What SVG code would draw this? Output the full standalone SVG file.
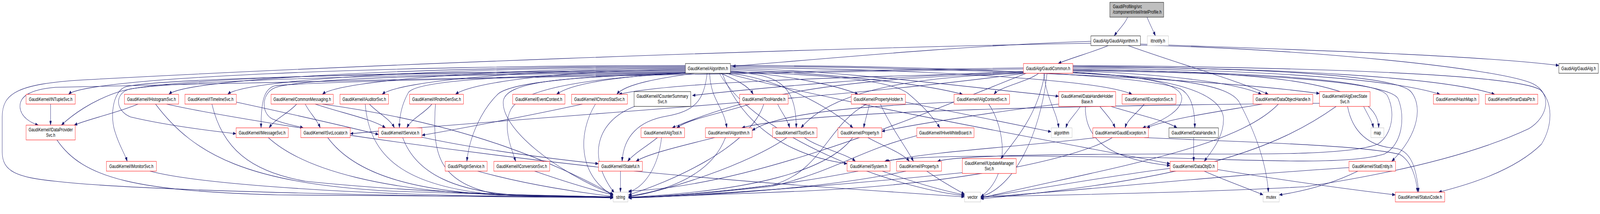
<svg xmlns="http://www.w3.org/2000/svg" width="5761" height="549" viewBox="0 0 5761 549" preserveAspectRatio="none" style="width:100%;height:100%;display:block">
<style>
text{font-family:"Liberation Sans",Arial,Helvetica,sans-serif;font-size:13.33px;text-anchor:middle;fill:#000}
.nd rect{fill:#fff;stroke:#ff0000;stroke-width:1}
.bk rect{stroke:#000}
.gy rect{stroke:#bfbfbf}
.ed path{fill:none;stroke:#191970;stroke-width:1.1;marker-end:url(#a)}
</style>
<defs>
<marker id="a" viewBox="0 0 11 8" refX="11" refY="4" markerWidth="11" markerHeight="8" markerUnits="userSpaceOnUse" orient="auto"><path d="M0,0 L11,4 L0,8 z" fill="#191970" stroke="#191970" stroke-width="0.5"/></marker>
</defs>
<rect x="0" y="0" width="5761" height="549" fill="#fff"/>
<g id="edges" class="ed">
<path d="M4060,44 C4050,62 4025,78 4012,92"/>
<path d="M4130,44 C4140,62 4152,78 4160,92"/>
<path d="M3990,117 C3930,135 3850,150 3810,163"/>
<path d="M3928,106 C3500,115 2900,155 2637,170"/>
<path d="M3928,111 C2800,125 1200,170 300,205 C60,215 8,240 8,300 L8,390 C8,440 60,455 200,465 C500,490 1500,505 2208,507"/>
<path d="M4106,113 C4600,126 5300,140 5613,168"/>
<path d="M4106,116 C4700,125 5400,175 5520,215 C5590,240 5575,300 5505,330 C5380,372 5150,430 4700,479 C4300,495 3800,500 3531,505"/>
<path d="M4062,117 C4250,165 4450,205 4567,242"/>
<path d="M2468,168 C1357,168 307,200 247,242"/>
<path d="M2468,170 C1500,172 670,202 608,242"/>
<path d="M2468,172 C1600,174 880,204 820,242"/>
<path d="M2468,174 C1800,176 1220,206 1161,242"/>
<path d="M2468,176 C1900,178 1435,208 1376,242"/>
<path d="M2468,178 C2050,180 1700,210 1640,242"/>
<path d="M2475,186 C2250,195 2060,212 2004,242"/>
<path d="M2500,188 C2380,200 2250,215 2221,242"/>
<path d="M2595,188 C2650,205 2695,220 2712,242"/>
<path d="M2555,188 C2560,260 2605,270 2617,328"/>
<path d="M2546,188 C2535,260 2500,285 2400,298 C2300,310 2245,350 2240,414"/>
<path d="M2468,180 C1500,184 600,198 430,235 C330,258 260,295 221,321"/>
<path d="M2468,182 C1500,186 600,200 455,222 C405,232 395,300 415,340 C430,375 450,395 458,414"/>
<path d="M2468,184 C1600,188 700,204 470,228 C415,236 410,282 470,300 C600,322 750,335 850,343"/>
<path d="M2468,186 C1800,190 1100,196 990,225 C940,240 940,290 980,305 C1030,320 1065,322 1092,328"/>
<path d="M2468,187 C2000,190 1500,200 1470,238 C1445,270 1438,300 1438,328"/>
<path d="M2468,188 C2100,195 1850,210 1795,240 C1735,280 1690,350 1681,414"/>
<path d="M2470,188 C2100,200 1880,230 1840,280 C1810,320 1835,370 1857,414"/>
<path d="M2630,182 C2800,190 3000,215 3090,242"/>
<path d="M2630,179 C2900,184 3300,210 3466,242"/>
<path d="M2630,176 C3000,178 3500,225 3812,247"/>
<path d="M2630,173 C3200,176 3950,200 4076,242"/>
<path d="M2630,170 C3500,172 4400,205 4751,240"/>
<path d="M2630,185 C2800,190 2867,215 2867,328"/>
<path d="M2625,188 C2800,200 3000,280 3071,328"/>
<path d="M2630,184 C2900,190 3200,200 3270,240 C3320,270 3360,300 3384,328"/>
<path d="M2630,168 C3300,168 4100,188 4250,228 C4295,245 4302,290 4302,328"/>
<path d="M2615,188 C3000,260 3700,350 4213,420"/>
<path d="M2600,188 C2680,330 2850,400 3050,420"/>
<path d="M2590,188 C2720,350 3200,480 3473,502"/>
<path d="M2480,188 C2000,196 1820,212 1812,260 C1805,330 2000,440 2208,499"/>
<path d="M3685,186 C3000,198 2400,212 2228,242"/>
<path d="M3685,183 C3200,195 2700,228 2493,245"/>
<path d="M3740,188 C3700,210 3600,222 3579,242"/>
<path d="M3758,188 C3770,260 3805,285 3812,328"/>
<path d="M3762,188 C3740,280 3680,340 3603,407"/>
<path d="M3685,188 C3000,200 2700,245 2420,328"/>
<path d="M3690,188 C3300,196 3000,230 2884,328"/>
<path d="M3685,174 C2500,188 800,205 200,224 C100,230 70,250 72,275 C75,300 110,315 138,321"/>
<path d="M3685,177 C2500,190 1200,205 990,220 C950,228 940,260 940,328"/>
<path d="M3690,188 C3000,255 2000,295 1261,343"/>
<path d="M3863,181 C4450,186 5010,205 5035,255 C5060,300 5050,370 4985,395 C4850,425 4500,410 4200,405 C3800,400 3300,395 3185,414"/>
<path d="M3863,179 C4400,183 4960,200 4995,245 C5025,285 5015,345 4960,370 C4850,400 4500,395 4200,395 C3800,396 3450,398 3375,414"/>
<path d="M3863,185 C4100,195 4250,210 4255,250 C4258,285 4180,312 4114,328"/>
<path d="M3863,182 C4200,190 4450,212 4542,242"/>
<path d="M3863,178 C4500,185 4964,200 4964,328"/>
<path d="M3863,175 C4500,178 5000,200 5185,242"/>
<path d="M3863,172 C4600,173 5200,198 5382,242"/>
<path d="M3863,170 C4600,175 5030,195 5080,235 C5120,268 5115,340 5011,414"/>
<path d="M3863,168 C4700,172 5450,190 5545,230 C5592,260 5592,322 5550,370 C5450,440 5280,475 5180,493"/>
<path d="M3695,188 C3300,300 2700,480 2263,490"/>
<path d="M3770,188 C3745,350 3650,480 3531,505"/>
<path d="M3863,187 C4200,200 4420,212 4462,262 C4520,340 4560,420 4567,493"/>
<path d="M3863,186 C4200,198 4390,232 4405,300 C4410,350 4360,390 4336,414"/>
<path d="M182,267 L182,321"/>
<path d="M497,267 C420,290 320,305 267,321"/>
<path d="M560,267 C700,400 900,470 1400,490 C1800,500 2100,503 2208,505"/>
<path d="M600,267 C800,300 1500,380 2300,440 C2800,475 3300,496 3473,505"/>
<path d="M851,262 C1000,285 1250,325 1363,345"/>
<path d="M763,267 C800,380 900,440 1100,465 C1500,495 2000,503 2208,507"/>
<path d="M1068,267 C1040,290 990,305 969,328"/>
<path d="M1099,267 C1115,290 1140,305 1153,328"/>
<path d="M1135,267 C1230,290 1340,305 1388,328"/>
<path d="M1160,267 C1700,320 2000,420 2210,500"/>
<path d="M1330,267 C1360,290 1405,305 1420,328"/>
<path d="M1315,267 C1330,400 1450,480 1800,500 C2000,505 2150,505 2208,507"/>
<path d="M1555,267 C1530,290 1480,305 1465,328"/>
<path d="M1568,267 C1555,400 1580,470 1800,500 C2000,505 2150,506 2208,508"/>
<path d="M2144,267 C2080,340 2080,450 2208,502"/>
<path d="M2097,267 C1950,290 1700,325 1519,347"/>
<path d="M2285,273 C2150,310 2110,400 2212,495"/>
<path d="M2700,267 C2600,290 2480,305 2437,328"/>
<path d="M2800,267 C2815,290 2835,305 2843,328"/>
<path d="M2750,267 C2700,380 2400,470 2263,500"/>
<path d="M3130,267 C3125,290 3115,305 3110,328"/>
<path d="M3170,267 C3210,330 3265,380 3289,414"/>
<path d="M3120,267 C2980,320 2960,440 2780,475 C2500,500 2350,505 2263,507"/>
<path d="M3260,262 C3450,290 3650,320 3785,338"/>
<path d="M3435,262 C3100,272 2800,290 2708,335"/>
<path d="M3560,267 C3620,330 3640,450 3531,505"/>
<path d="M3890,273 C3870,295 3845,310 3838,328"/>
<path d="M3960,273 C3985,295 4005,310 4015,328"/>
<path d="M4000,273 C4100,295 4200,310 4238,328"/>
<path d="M3908,273 C3905,380 4050,412 4213,425"/>
<path d="M3812,267 C3600,285 3300,318 3175,337"/>
<path d="M4120,267 C4095,290 4060,305 4051,328"/>
<path d="M4545,267 C4400,285 4200,305 4129,328"/>
<path d="M4603,267 C4450,380 4000,430 3531,508"/>
<path d="M4910,273 C4925,295 4940,310 4945,328"/>
<path d="M4811,273 C4600,380 4300,460 3531,510"/>
<path d="M4751,265 C4000,270 2900,282 2671,328"/>
<path d="M4852,273 C4870,340 4930,375 5020,380 C5080,385 5100,430 5108,493"/>
<path d="M205,359 C300,460 500,490 1000,500 C1600,505 2000,506 2208,506"/>
<path d="M966,353 C1100,440 1400,490 1800,500 C2000,504 2150,505 2208,505"/>
<path d="M1180,353 C1280,450 1500,490 1800,500 C2000,504 2150,506 2208,506"/>
<path d="M1450,353 C1500,450 1650,490 1850,500 C2050,503 2150,505 2208,505"/>
<path d="M1519,352 C1700,380 1950,405 2155,420"/>
<path d="M2367,353 C2330,375 2280,395 2260,414"/>
<path d="M2382,353 C2370,430 2320,480 2263,493"/>
<path d="M2573,353 C2450,375 2330,395 2290,414"/>
<path d="M2612,353 C2560,450 2400,490 2263,503"/>
<path d="M2896,353 C2950,380 3050,395 3080,414"/>
<path d="M2833,353 C2700,420 2400,490 2263,505"/>
<path d="M3125,353 C3180,375 3250,392 3274,414"/>
<path d="M3070,353 C2980,440 2700,490 2263,506"/>
<path d="M3301,348 C3100,385 3000,440 2780,478 C2500,500 2350,505 2263,507"/>
<path d="M3947,353 C3700,375 3350,388 3190,414"/>
<path d="M4005,353 C3900,400 3500,470 2900,490 C2600,500 2400,506 2263,508"/>
<path d="M4120,353 C4500,365 4900,372 5040,396 C5085,415 5100,460 5104,493"/>
<path d="M4298,353 L4298,414"/>
<path d="M4336,439 C4400,460 4500,485 4548,500"/>
<path d="M4384,435 C4600,460 4850,485 5024,500"/>
<path d="M4213,432 C4000,450 3700,490 3531,506"/>
<path d="M540,439 C700,470 1200,495 1700,502 C1950,505 2100,505 2208,505"/>
<path d="M1720,439 C1900,475 2100,495 2208,504"/>
<path d="M1925,439 C2050,470 2150,490 2208,500"/>
<path d="M2234,439 L2234,493"/>
<path d="M3090,439 C2800,480 2500,500 2263,507"/>
<path d="M3177,439 C3300,470 3400,490 3473,500"/>
<path d="M3262,439 C3000,480 2600,500 2263,508"/>
<path d="M3337,439 C3400,470 3440,485 3473,498"/>
<path d="M3465,443 C3100,470 2600,500 2263,506"/>
<path d="M4889,439 C4800,470 4700,490 4606,500"/>
<path d="M4857,430 C4400,450 3800,495 3531,506"/>
</g>
<g id="nodes">
<g id="n_root" class="nd bk"><rect x="3996" y="6" width="194" height="38" style="fill:#bfbfbf"/><text x="4007" y="21" style="text-anchor:start">GaudiProfiling/src</text><text x="4007" y="35" style="text-anchor:start">/component/intel/IntelProfile.h</text></g>
<g id="n_GaudiAlgorithm" class="nd bk"><rect x="3928" y="92" width="178" height="25"/><text x="4017" y="109">GaudiAlg/GaudiAlgorithm.h</text></g>
<g id="n_ittnotify" class="nd gy"><rect x="4131" y="92" width="76" height="25"/><text x="4169" y="109">ittnotify.h</text></g>
<g id="n_Algorithm" class="nd bk"><rect x="2468" y="163" width="162" height="25"/><text x="2549" y="180">GaudiKernel/Algorithm.h</text></g>
<g id="n_GaudiCommon" class="nd"><rect x="3685" y="163" width="178" height="25"/><text x="3774" y="180">GaudiAlg/GaudiCommon.h</text></g>
<g id="n_GaudiAlg" class="nd bk"><rect x="5613" y="163" width="142" height="25"/><text x="5684" y="180">GaudiAlg/GaudiAlg.h</text></g>
<g id="n_INTupleSvc" class="nd"><rect x="94" y="242" width="177" height="25"/><text x="182.5" y="259">GaudiKernel/INTupleSvc.h</text></g>
<g id="n_IHistogramSvc" class="nd"><rect x="448" y="242" width="195" height="25"/><text x="545.5" y="259">GaudiKernel/IHistogramSvc.h</text></g>
<g id="n_ITimelineSvc" class="nd"><rect x="666" y="242" width="185" height="25"/><text x="758.5" y="259">GaudiKernel/ITimelineSvc.h</text></g>
<g id="n_CommonMessaging" class="nd"><rect x="976" y="242" width="224" height="25"/><text x="1088" y="259">GaudiKernel/CommonMessaging.h</text></g>
<g id="n_IAuditorSvc" class="nd"><rect x="1224" y="242" width="175" height="25"/><text x="1311.5" y="259">GaudiKernel/IAuditorSvc.h</text></g>
<g id="n_IRndmGenSvc" class="nd"><rect x="1475" y="242" width="194" height="25"/><text x="1572" y="259">GaudiKernel/IRndmGenSvc.h</text></g>
<g id="n_EventContext" class="nd"><rect x="1846" y="242" width="188" height="25"/><text x="1940" y="259">GaudiKernel/EventContext.h</text></g>
<g id="n_IChronoStatSvc" class="nd"><rect x="2058" y="242" width="201" height="25"/><text x="2158.5" y="259">GaudiKernel/IChronoStatSvc.h</text></g>
<g id="n_ICounterSummarySvc" class="nd bk"><rect x="2283" y="235" width="204" height="38"/><text x="2385" y="251">GaudiKernel/ICounterSummary</text><text x="2385" y="265">Svc.h</text></g>
<g id="n_ToolHandle" class="nd"><rect x="2663" y="242" width="175" height="25"/><text x="2750.5" y="259">GaudiKernel/ToolHandle.h</text></g>
<g id="n_PropertyHolder" class="nd"><rect x="3065" y="242" width="195" height="25"/><text x="3162.5" y="259">GaudiKernel/PropertyHolder.h</text></g>
<g id="n_IAlgContextSvc" class="nd"><rect x="3435" y="242" width="200" height="25"/><text x="3535" y="259">GaudiKernel/IAlgContextSvc.h</text></g>
<g id="n_DataHandleHolderBase" class="nd"><rect x="3812" y="235" width="205" height="38"/><text x="3914.5" y="251">GaudiKernel/DataHandleHolder</text><text x="3914.5" y="265">Base.h</text></g>
<g id="n_IExceptionSvc" class="nd"><rect x="4040" y="242" width="194" height="25"/><text x="4137" y="259">GaudiKernel/IExceptionSvc.h</text></g>
<g id="n_DataObjectHandle" class="nd"><rect x="4512" y="242" width="215" height="25"/><text x="4619.5" y="259">GaudiKernel/DataObjectHandle.h</text></g>
<g id="n_IAlgExecStateSvc" class="nd"><rect x="4751" y="235" width="182" height="38"/><text x="4842" y="251">GaudiKernel/IAlgExecState</text><text x="4842" y="265">Svc.h</text></g>
<g id="n_HashMap" class="nd"><rect x="5161" y="242" width="164" height="25"/><text x="5243" y="259">GaudiKernel/HashMap.h</text></g>
<g id="n_SmartDataPtr" class="nd"><rect x="5348" y="242" width="189" height="25"/><text x="5442.5" y="259">GaudiKernel/SmartDataPtr.h</text></g>
<g id="n_IDataProviderSvc" class="nd"><rect x="94" y="321" width="177" height="38"/><text x="182.5" y="337">GaudiKernel/IDataProvider</text><text x="182.5" y="351">Svc.h</text></g>
<g id="n_IMessageSvc" class="nd"><rect x="850" y="328" width="188" height="25"/><text x="944" y="345">GaudiKernel/IMessageSvc.h</text></g>
<g id="n_ISvcLocator" class="nd"><rect x="1083" y="328" width="178" height="25"/><text x="1172" y="345">GaudiKernel/ISvcLocator.h</text></g>
<g id="n_IService" class="nd"><rect x="1363" y="328" width="156" height="25"/><text x="1441" y="345">GaudiKernel/IService.h</text></g>
<g id="n_IAlgTool" class="nd"><rect x="2308" y="328" width="157" height="25"/><text x="2386.5" y="345">GaudiKernel/IAlgTool.h</text></g>
<g id="n_IAlgorithm" class="nd"><rect x="2540" y="328" width="168" height="25"/><text x="2624" y="345">GaudiKernel/IAlgorithm.h</text></g>
<g id="n_IToolSvc" class="nd"><rect x="2782" y="328" width="160" height="25"/><text x="2862" y="345">GaudiKernel/IToolSvc.h</text></g>
<g id="n_Property" class="nd"><rect x="3017" y="328" width="158" height="25"/><text x="3096" y="345">GaudiKernel/Property.h</text></g>
<g id="n_IHiveWhiteBoard" class="nd"><rect x="3301" y="328" width="206" height="25"/><text x="3404" y="345">GaudiKernel/IHiveWhiteBoard.h</text></g>
<g id="n_algorithm" class="nd gy"><rect x="3785" y="328" width="75" height="25"/><text x="3822.5" y="345">algorithm</text></g>
<g id="n_GaudiException" class="nd"><rect x="3935" y="328" width="200" height="25"/><text x="4035" y="345">GaudiKernel/GaudiException.h</text></g>
<g id="n_DataHandle" class="nd bk"><rect x="4209" y="328" width="178" height="25"/><text x="4298" y="345">GaudiKernel/DataHandle.h</text></g>
<g id="n_map" class="nd gy"><rect x="4936" y="328" width="47" height="25"/><text x="4959.5" y="345">map</text></g>
<g id="n_IMonitorSvc" class="nd"><rect x="383" y="414" width="180" height="25"/><text x="473" y="431">GaudiKernel/IMonitorSvc.h</text></g>
<g id="n_PluginService" class="nd"><rect x="1603" y="414" width="151" height="25"/><text x="1678.5" y="431">Gaudi/PluginService.h</text></g>
<g id="n_IConversionSvc" class="nd"><rect x="1778" y="414" width="201" height="25"/><text x="1878.5" y="431">GaudiKernel/IConversionSvc.h</text></g>
<g id="n_IStateful" class="nd"><rect x="2155" y="414" width="158" height="25"/><text x="2234" y="431">GaudiKernel/IStateful.h</text></g>
<g id="n_System" class="nd"><rect x="3050" y="414" width="155" height="25"/><text x="3127.5" y="431">GaudiKernel/System.h</text></g>
<g id="n_IProperty" class="nd"><rect x="3228" y="414" width="162" height="25"/><text x="3309" y="431">GaudiKernel/IProperty.h</text></g>
<g id="n_IUpdateManagerSvc" class="nd"><rect x="3465" y="407" width="194" height="38"/><text x="3562" y="423">GaudiKernel/IUpdateManager</text><text x="3562" y="437">Svc.h</text></g>
<g id="n_DataObjID" class="nd"><rect x="4213" y="414" width="171" height="25"/><text x="4298.5" y="431">GaudiKernel/DataObjID.h</text></g>
<g id="n_StatEntity" class="nd"><rect x="4857" y="414" width="168" height="25"/><text x="4941" y="431">GaudiKernel/StatEntity.h</text></g>
<g id="n_string" class="nd gy"><rect x="2208" y="493" width="53" height="25"/><text x="2234.5" y="510">string</text></g>
<g id="n_vector" class="nd gy"><rect x="3473" y="493" width="58" height="25"/><text x="3502" y="510">vector</text></g>
<g id="n_mutex" class="nd gy"><rect x="4548" y="493" width="58" height="25"/><text x="4577" y="510">mutex</text></g>
<g id="n_StatusCode" class="nd"><rect x="5024" y="493" width="178" height="25"/><text x="5113" y="510">GaudiKernel/StatusCode.h</text></g>
</g>
</svg>
